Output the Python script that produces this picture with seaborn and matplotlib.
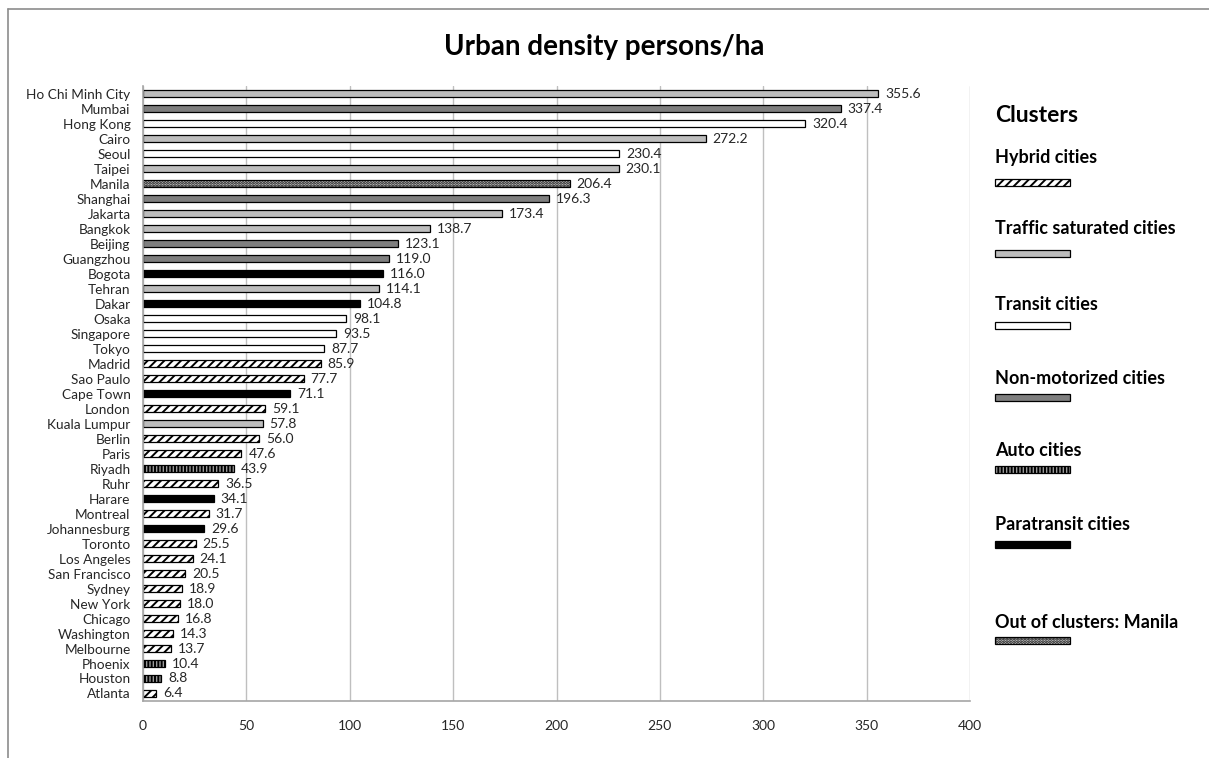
import matplotlib
matplotlib.use("Agg")
import matplotlib.pyplot as plt
import seaborn as sns
import pandas as pd
from matplotlib.patches import Rectangle
from matplotlib.lines import Line2D

cities = ["Ho Chi Minh City", "Mumbai", "Hong Kong", "Cairo", "Seoul", "Taipei", "Manila",
          "Shanghai", "Jakarta", "Bangkok", "Beijing", "Guangzhou", "Bogota", "Tehran", "Dakar",
          "Osaka", "Singapore", "Tokyo", "Madrid", "Sao Paulo", "Cape Town", "London",
          "Kuala Lumpur", "Berlin", "Paris", "Riyadh", "Ruhr", "Harare", "Montreal",
          "Johannesburg", "Toronto", "Los Angeles", "San Francisco", "Sydney", "New York",
          "Chicago", "Washington", "Melbourne", "Phoenix", "Houston", "Atlanta"]
density = [355.6, 337.4, 320.4, 272.2, 230.4, 230.1, 206.4, 196.3, 173.4, 138.7, 123.1,
           119.0, 116.0, 114.1, 104.8, 98.1, 93.5, 87.7, 85.9, 77.7, 71.1, 59.1, 57.8, 56.0,
           47.6, 43.9, 36.5, 34.1, 31.7, 29.6, 25.5, 24.1, 20.5, 18.9, 18.0, 16.8, 14.3,
           13.7, 10.4, 8.8, 6.4]
cluster = ["Traffic", "NonMotor", "Transit", "Traffic", "Transit", "Traffic", "Out",
           "NonMotor", "Traffic", "Traffic", "NonMotor", "NonMotor", "Para", "Traffic", "Para",
           "Transit", "Transit", "Transit", "Hybrid", "Hybrid", "Para", "Hybrid",
           "Traffic", "Hybrid", "Hybrid", "Auto", "Hybrid", "Para", "Hybrid",
           "Para", "Hybrid", "Hybrid", "Hybrid", "Hybrid", "Hybrid",
           "Hybrid", "Hybrid", "Hybrid", "Auto", "Auto", "Hybrid"]

legend_keys = ["Hybrid", "Traffic", "Transit", "NonMotor", "Auto", "Para", "Out"]
legend_labels = ["Hybrid cities", "Traffic saturated cities", "Transit cities",
                 "Non-motorized cities", "Auto cities", "Paratransit cities",
                 "Out of clusters: Manila"]

styles = {
    "Hybrid":   dict(facecolor="white", hatch="////"),
    "Traffic":  dict(facecolor="#bdbdbd", hatch=None),
    "Transit":  dict(facecolor="white", hatch=None),
    "NonMotor": dict(facecolor="#7f7f7f", hatch=None),
    "Auto":     dict(facecolor="#9a9a9a", hatch="|||||"),
    "Para":     dict(facecolor="black", hatch=None),
    "Out":      dict(facecolor="#d0d0d0", hatch="......"),
}

sns.set_theme(style="white")
plt.rcParams["font.family"] = ["Lato", "DejaVu Sans"]
plt.rcParams["hatch.linewidth"] = 1.4

df = pd.DataFrame({"city": cities, "density": density, "cluster": cluster})

fig = plt.figure(figsize=(12.09, 7.58), dpi=100)
ax = fig.add_axes([0.1183, 0.0752, 0.8023 - 0.1183, 0.8865 - 0.0752])

sns.barplot(data=df, x="density", y="city", order=cities, color="white",
            edgecolor="black", linewidth=0.9, width=0.44, ax=ax)

for p, c in zip(ax.patches, cluster):
    st = styles[c]
    p.set_facecolor(st["facecolor"])
    if st["hatch"]:
        p.set_hatch(st["hatch"])

ax.bar_label(ax.containers[0], fmt="%.1f", padding=5, fontsize=10, color="#262626")

ax.set_xlim(0, 400)
ax.set_xticks(range(0, 401, 50))
ax.set_xlabel("")
ax.set_ylabel("")
ax.grid(axis="x", color="#bfbfbf", linewidth=1)
ax.grid(axis="y", visible=False)
ax.set_axisbelow(True)
for s in ["top", "right"]:
    ax.spines[s].set_visible(False)
for s in ["left", "bottom"]:
    ax.spines[s].set_color("#a6a6a6")
    ax.spines[s].set_linewidth(1.2)
ax.tick_params(axis="x", length=0, pad=14, labelsize=10, labelcolor="#262626")
ax.tick_params(axis="y", length=0, pad=9, labelsize=9.8, labelcolor="#262626")

fig.text(0.5, 0.938, "Urban density persons/ha", ha="center", va="center",
         fontsize=20, fontweight="bold", color="black")

# figure frame (left and top edges)
fig.add_artist(Line2D([8 / 1209, 8 / 1209], [0, 1 - 9 / 758], transform=fig.transFigure,
                      color="#8c8c8c", linewidth=1.2))
fig.add_artist(Line2D([8 / 1209, 1], [1 - 9 / 758, 1 - 9 / 758], transform=fig.transFigure,
                      color="#8c8c8c", linewidth=1.2))

# custom legend
x0 = 995 / 1209
fig.text(x0, 1 - 115 / 758, "Clusters", ha="left", va="center", fontsize=16.5,
         fontweight="bold", color="black")
text_y = [157, 229, 304, 378, 451, 525, 622]
patch_y = [182, 254, 326, 397, 469, 544, 640]
for key, lab, ty, py in zip(legend_keys, legend_labels, text_y, patch_y):
    fig.text(x0, 1 - ty / 758, lab, ha="left", va="center", fontsize=13,
             fontweight="bold", color="black")
    st = styles[key]
    r = Rectangle((x0, 1 - (py + 3.5) / 758), 75 / 1209, 7 / 758, transform=fig.transFigure,
                  facecolor=st["facecolor"], edgecolor="black", linewidth=0.9,
                  hatch=st["hatch"])
    fig.add_artist(r)

fig.savefig("out.png", dpi=100)
